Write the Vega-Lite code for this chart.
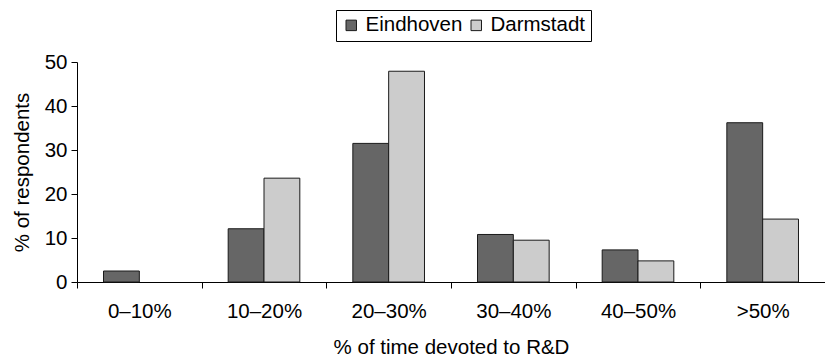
{
  "$schema": "https://vega.github.io/schema/vega-lite/v6.json",
  "autosize": "none",
  "width": 748,
  "height": 220,
  "padding": {"left": 77, "top": 62, "right": 0, "bottom": 78},
  "background": "white",
  "config": {
    "font": "Liberation Sans",
    "view": {"stroke": null},
    "axis": {
      "labelFont": "Liberation Sans",
      "titleFont": "Liberation Sans",
      "labelFontSize": 20.5,
      "titleFontSize": 20.5,
      "titleFontWeight": "normal",
      "labelColor": "black",
      "titleColor": "black",
      "domainColor": "black",
      "tickColor": "black",
      "grid": false,
      "tickSize": 6
    }
  },
  "data": {
    "values": [
      {"range": "0–10%", "city": "Eindhoven", "pct": 2.5},
      {"range": "10–20%", "city": "Eindhoven", "pct": 12.1},
      {"range": "10–20%", "city": "Darmstadt", "pct": 23.6},
      {"range": "20–30%", "city": "Eindhoven", "pct": 31.5},
      {"range": "20–30%", "city": "Darmstadt", "pct": 47.9},
      {"range": "30–40%", "city": "Eindhoven", "pct": 10.8},
      {"range": "30–40%", "city": "Darmstadt", "pct": 9.5},
      {"range": "40–50%", "city": "Eindhoven", "pct": 7.3},
      {"range": "40–50%", "city": "Darmstadt", "pct": 4.8},
      {"range": ">50%", "city": "Eindhoven", "pct": 36.2},
      {"range": ">50%", "city": "Darmstadt", "pct": 14.3}
    ]
  },
  "mark": {"type": "bar", "stroke": "#1a1a1a", "strokeWidth": 1},
  "encoding": {
    "x": {
      "field": "range",
      "type": "nominal",
      "sort": ["0–10%", "10–20%", "20–30%", "30–40%", "40–50%", ">50%"],
      "scale": {"paddingInner": 0, "paddingOuter": 0},
      "axis": {
        "title": "% of time devoted to R&D",
        "labelAngle": 0,
        "labelPadding": 13,
        "titlePadding": 16,
        "tickBand": "extent"
      }
    },
    "xOffset": {
      "field": "city",
      "type": "nominal",
      "sort": ["Eindhoven", "Darmstadt"],
      "scale": {"paddingInner": 0, "paddingOuter": 0.74}
    },
    "y": {
      "field": "pct",
      "type": "quantitative",
      "scale": {"domain": [0, 50], "nice": false},
      "axis": {
        "title": "% of respondents",
        "values": [0, 10, 20, 30, 40, 50],
        "labelPadding": 4,
        "titlePadding": 12
      }
    },
    "color": {
      "field": "city",
      "type": "nominal",
      "sort": ["Eindhoven", "Darmstadt"],
      "scale": {"domain": ["Eindhoven", "Darmstadt"], "range": ["#666666", "#cccccc"]},
      "legend": {
        "title": null,
        "orient": "none",
        "direction": "horizontal",
        "legendX": 259,
        "legendY": -52,
        "strokeColor": "black",
        "padding": 5,
        "symbolType": "square",
        "symbolSize": 110,
        "symbolStrokeColor": "#1a1a1a",
        "symbolStrokeWidth": 1,
        "symbolOpacity": 1,
        "labelFont": "Liberation Sans",
        "labelFontSize": 20.5,
        "labelColor": "black",
        "labelOffset": 4,
        "columnPadding": 3
      }
    }
  }
}
